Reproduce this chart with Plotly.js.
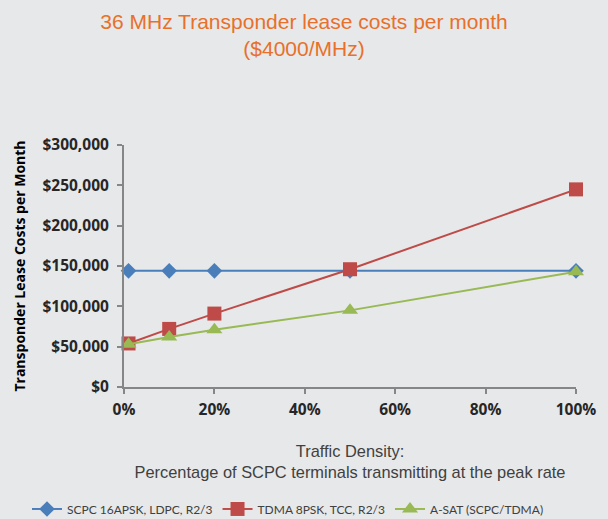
<!DOCTYPE html>
<html>
<head>
<meta charset="utf-8">
<script src="https://cdn.plot.ly/plotly-3.0.1.min.js"></script>
<style>html,body{margin:0;padding:0;background:#e7e8e9;}#chart{width:608px;height:519px;}</style>
</head>
<body>
<div id="chart"></div>
<script>
const seriesNames = ["SCPC 16APSK, LDPC, R2/3", "TDMA 8PSK, TCC, R2/3", "A-SAT (SCPC/TDMA)"];
const trafficDensity = [1, 10, 20, 50, 100];
const scpcCost = [144000, 144000, 144000, 144000, 144000];
const tdmaCost = [54000, 72000, 91000, 146000, 245000];
const asatCost = [53000, 62000, 71000, 95000, 143000];
const yTicks = [0, 50000, 100000, 150000, 200000, 250000, 300000];
const xTicks = [0, 20, 40, 60, 80, 100];

const colors = ["#4a7ebb", "#be4b48", "#98b954"];
const symbols = ["diamond", "square", "triangle-up"];
const sizes = [12, 14, 14];
const ys = [scpcCost, tdmaCost, asatCost];

const traces = ys.map((y, i) => ({
  x: trafficDensity, y: y, name: seriesNames[i], type: "scatter", mode: "lines+markers",
  line: {color: colors[i], width: 2},
  marker: {symbol: symbols[i], size: sizes[i], color: colors[i]},
  cliponaxis: false
}));

const axisFont = {family: "'Open Sans', Lato, sans-serif", size: 15.5, color: "#262626", weight: "bold"};

const layout = {
  width: 608, height: 519,
  paper_bgcolor: "#e7e8e9", plot_bgcolor: "#e7e8e9",
  margin: {l: 124, r: 32, t: 145, b: 132, autoexpand: false},
  title: {
    text: "36 MHz Transponder lease costs per month<br>($4000/MHz)",
    font: {family: "'Liberation Sans', Arial, sans-serif", size: 21, color: "#e8702a"},
    x: 0.5, xanchor: "center", xref: "container",
    y: 0.945, yanchor: "middle", yref: "container"
  },
  showlegend: true,
  legend: {
    orientation: "h", x: -0.2146, xanchor: "left", y: -0.504, yanchor: "middle",
    xref: "paper", yref: "paper",
    font: {family: "Lato, 'Open Sans', sans-serif", size: 12, color: "#404040"},
    bgcolor: "rgba(0,0,0,0)", itemwidth: 30, tracegroupgap: 0
  },
  xaxis: {
    range: [0, 100], tickvals: xTicks, ticktext: xTicks.map(v => v + "%"),
    showgrid: false, zeroline: false, showline: true, linecolor: "#868686", linewidth: 2,
    ticks: "outside", ticklen: 5, tickwidth: 2, tickcolor: "#868686",
    tickfont: axisFont, ticklabelstandoff: 2,
    title: {
      text: "Traffic Density:<br>Percentage of SCPC terminals transmitting at the peak rate",
      font: {family: "'Liberation Sans', Arial, sans-serif", size: 16.4, color: "#404040"},
      standoff: 27
    }
  },
  yaxis: {
    range: [0, 300000], tickvals: yTicks,
    ticktext: yTicks.map(v => "$" + v.toLocaleString("en-US")),
    showgrid: false, zeroline: false, showline: true, linecolor: "#868686", linewidth: 2,
    ticks: "outside", ticklen: 5, tickwidth: 2, tickcolor: "#868686",
    tickfont: axisFont, ticklabelstandoff: 5,
    title: {
      text: "Transponder Lease Costs per Month",
      font: {family: "'Open Sans', Lato, sans-serif", size: 14, color: "#000000", weight: "bold"},
      standoff: 14
    }
  }
};

Plotly.newPlot("chart", traces, layout, {displayModeBar: false, responsive: false});
</script>
</body>
</html>
